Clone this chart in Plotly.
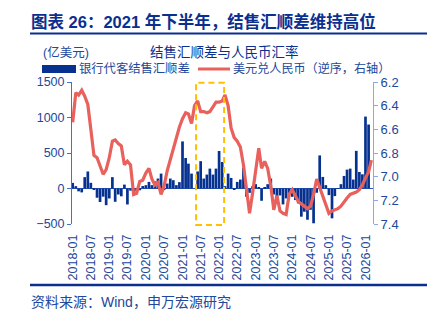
import plotly.graph_objects as go
import pandas as pd

# ---------------- data ----------------
months_line = pd.date_range("2018-01-01", periods=99, freq="MS")  # 2018-01 .. 2026-03
months_bar = months_line[:98]                                      # 2018-01 .. 2026-02

# 银行代客结售汇顺差 (亿美元)
surplus = [
    79, 33, -40, -55, 160, 240, 80, -20, -130, -190, -115, -235,      # 2018
    -140, 160, -187, -85, -110, 55, -225, -30, -50, -40, -25, 35,      # 2019
    47, 93, 47, 100, 140, 210, -23, 70, 140, 117, 47, 90,              # 2020
    663, 430, 350, 210, 0, 240, 385, 140, 196, 280, 196, 280,          # 2021
    528, 373, 33, 210, 149, -10, 93, 126, 294, -117, -61, 33,          # 2022
    61, 9, -173, 14, 61, 140, -84, -149, -98, -224, -140, -70,         # 2023
    -117, -163, -210, -397, -327, -440, -300, -490, -60, 466, 163, 47, # 2024
    -93, -420, -107, -5, 61, 177, 266, 280, 126, 530, 233, 200,        # 2025
    1013, 901,                                                         # 2026
]

# 美元兑人民币
usdcny = [
    6.54, 6.29, 6.31, 6.27, 6.32, 6.39, 6.60, 6.82, 6.84, 6.91, 6.98, 6.94,  # 2018
    6.84, 6.70, 6.69, 6.72, 6.74, 6.90, 6.87, 6.90, 7.15, 7.14, 7.04, 7.03,  # 2019
    6.97, 6.93, 7.02, 7.07, 7.05, 7.15, 7.08, 6.95, 6.86, 6.77, 6.66, 6.58,  # 2020
    6.51, 6.46, 6.47, 6.55, 6.40, 6.36, 6.45, 6.45, 6.46, 6.45, 6.41, 6.37,  # 2021
    6.37, 6.36, 6.31, 6.40, 6.59, 6.67, 6.70, 6.75, 6.90, 7.08, 7.31, 7.14,  # 2022
    6.94, 6.76, 6.93, 6.87, 6.93, 7.08, 7.28, 7.16, 7.29, 7.31, 7.32, 7.15,  # 2023
    7.11, 7.17, 7.21, 7.23, 7.25, 7.27, 7.25, 7.15, 7.02, 7.09, 7.16, 7.25,  # 2024
    7.31, 7.29, 7.28, 7.27, 7.25, 7.21, 7.18, 7.15, 7.14, 7.13, 7.11, 7.07,  # 2025
    7.01, 6.96, 6.86,                                                        # 2026
]

title_text = "图表 26：2021 年下半年，结售汇顺差维持高位"
chart_title = "结售汇顺差与人民币汇率"
unit_text = "(亿美元)"
legend_bar = "银行代客结售汇顺差"
legend_line = "美元兑人民币（逆序，右轴）"
source_text = "资料来源：Wind，申万宏源研究"
highlight = ("2021-05-16", "2022-02-20")

# ---------------- layout helpers ----------------
W, H = 436, 333
ML, MR, MT, MB = 72, 63, 82, 109
PW, PH = W - ML - MR, H - MT - MB


def px(x):
    return (x - ML) / PW


def py(y):
    return (H - MB - y) / PH


FONT = "Liberation Sans, Arial, Noto Sans CJK SC, sans-serif"
NAVY = "#0A2F8F"
BAR = "#06318F"
RED = "#E8615C"
TXT = "#22479B"

fig = go.Figure()
fig.add_trace(go.Bar(
    x=months_bar, y=surplus, marker=dict(color=BAR, line=dict(width=0)),
    name=legend_bar, showlegend=False,
))
fig.add_trace(go.Scatter(
    x=months_line, y=usdcny, yaxis="y2", mode="lines",
    line=dict(color=RED, width=3.2), name=legend_line, showlegend=False,
))

fig.update_layout(
    width=W, height=H,
    margin=dict(l=ML, r=MR, t=MT, b=MB, pad=0),
    paper_bgcolor="white", plot_bgcolor="white",
    bargap=0.04,
    font=dict(family=FONT, color=TXT, size=12.5),
    xaxis=dict(
        type="date", range=["2017-12-25", "2026-03-17"],
        tickformat="%Y-%m", dtick="M6", tick0="2018-01-01",
        tickangle=-90, showgrid=False, showline=False, zeroline=False,
        ticks="", ticklabelstandoff=7,
        tickfont=dict(size=12.5, color=TXT, family=FONT),
    ),
    yaxis=dict(
        range=[-500, 1500], dtick=500, showgrid=False,
        showline=True, linecolor="#4472C4", linewidth=1,
        ticks="outside", ticklen=4, tickcolor="#4472C4",
        zeroline=True, zerolinecolor="#2F58B8", zerolinewidth=1.3,
        tickfont=dict(size=12.5, color=TXT, family=FONT),
    ),
    yaxis2=dict(
        overlaying="y", side="right", range=[7.4, 6.2], dtick=0.2,
        tickformat=".1f", showgrid=False, zeroline=False,
        showline=True, linecolor="#8EA9DB", linewidth=1,
        ticks="outside", ticklen=4, tickcolor="#8EA9DB",
        tickfont=dict(size=13, color=TXT, family=FONT),
    ),
)

shapes = [
    # highlight box
    dict(type="rect", xref="x", yref="paper", x0=highlight[0], x1=highlight[1],
         y0=py(225), y1=py(82.7), line=dict(color="#FFC000", width=2, dash="6px,4px"),
         fillcolor="rgba(0,0,0,0)", layer="above"),
    # title underline
    dict(type="line", xref="paper", yref="paper", x0=px(30), x1=px(427),
         y0=py(33.5), y1=py(33.5), line=dict(color=NAVY, width=2)),
    # bottom rule
    dict(type="line", xref="paper", yref="paper", x0=px(30), x1=px(427),
         y0=py(285), y1=py(285), line=dict(color=NAVY, width=2.5)),
    # legend bar swatch
    dict(type="rect", xref="paper", yref="paper", x0=px(42), x1=px(76),
         y0=py(73), y1=py(65), fillcolor=BAR, line=dict(width=0)),
    # legend line swatch
    dict(type="line", xref="paper", yref="paper", x0=px(198), x1=px(230),
         y0=py(69), y1=py(69), line=dict(color=RED, width=3)),
]
fig.update_layout(shapes=shapes)

ann = [
    dict(text="<b>" + title_text + "</b>", x=px(29), y=py(22), xanchor="left",
         yanchor="middle", font=dict(size=16.5, color=NAVY, family=FONT)),
    dict(text=chart_title, x=px(224), y=py(52.5), xanchor="center", yanchor="middle",
         font=dict(size=13.5, color=NAVY, family=FONT)),
    dict(text=unit_text, x=px(41), y=py(52.5), xanchor="left", yanchor="middle",
         font=dict(size=12.5, color=TXT, family=FONT)),
    dict(text=legend_bar, x=px(77), y=py(68.5), xanchor="left", yanchor="middle",
         font=dict(size=12.3, color=TXT, family=FONT)),
    dict(text=legend_line, x=px(231), y=py(68.5), xanchor="left", yanchor="middle",
         font=dict(size=12.1, color=TXT, family=FONT)),
    dict(text=source_text, x=px(29), y=py(302), xanchor="left", yanchor="middle",
         font=dict(size=14, color=TXT, family=FONT)),
]
for a in ann:
    a.update(xref="paper", yref="paper", showarrow=False)
fig.update_layout(annotations=ann)

fig.write_html("out.html")
